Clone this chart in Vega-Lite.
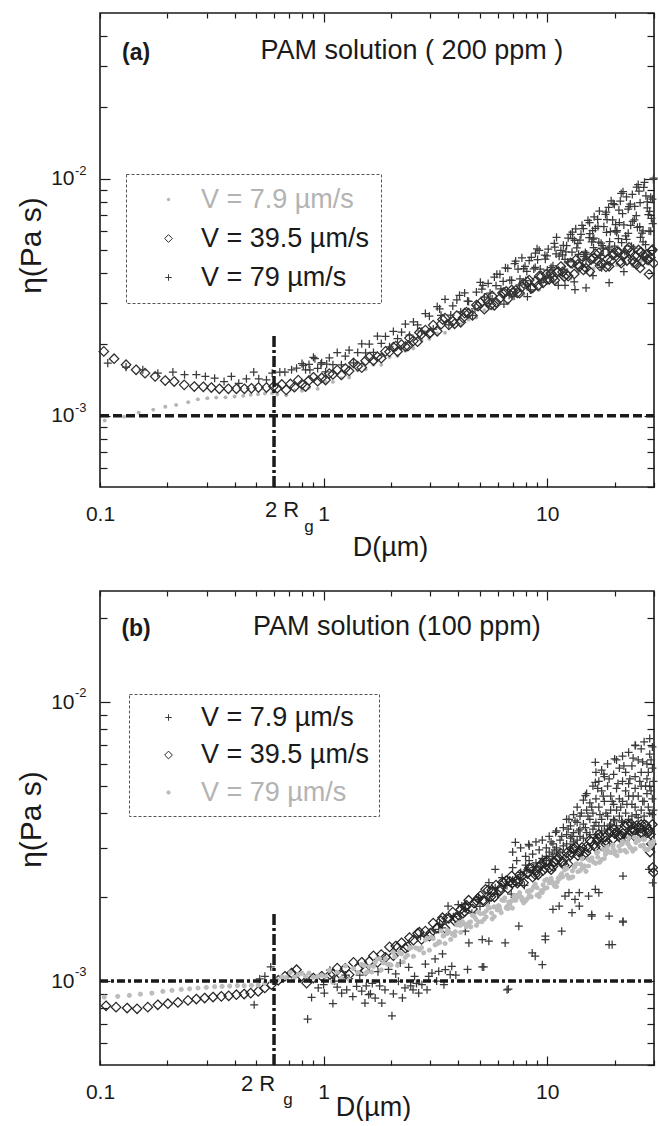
{
"$schema":"https://vega.github.io/schema/vega-lite/v6.json",
"padding":{"left":15,"top":11,"right":5,"bottom":0},
"background":"white",
"bounds":"flush",
"spacing":104,
"config":{
 "font":"Liberation Sans",
 "view":{"stroke":"#1a1a1a","strokeWidth":1.6},
 "axis":{"labelFont":"Liberation Sans","titleFont":"Liberation Sans","labelColor":"#1a1a1a","titleColor":"#1a1a1a","tickColor":"#1a1a1a","tickWidth":1.2,"domain":false,"grid":false,"labelFlush":false,"labelOverlap":false,"labelBound":false,"labelFontSize":21,"titleFontSize":27,"titleFontWeight":"normal"},
 "legend":{"strokeDash":[3,2],"strokeWidth":1,"strokeColor":"#555555","labelFont":"Liberation Sans","labelFontSize":27,"symbolSize":60,"symbolStrokeWidth":1,"labelLimit":400}
},
"datasets":{
"pa":[
{"v":7.9,"d":0.105,"e":0.000953},{"v":7.9,"d":0.128,"e":0.00099},{"v":7.9,"d":0.149,"e":0.00103},{"v":7.9,"d":0.173,"e":0.00106},{"v":7.9,"d":0.196,"e":0.00109},{"v":7.9,"d":0.219,"e":0.00111},{"v":7.9,"d":0.248,"e":0.00114},{"v":7.9,"d":0.274,"e":0.001172},{"v":7.9,"d":0.302,"e":0.001184},{"v":7.9,"d":0.331,"e":0.001192},{"v":7.9,"d":0.364,"e":0.001195},{"v":7.9,"d":0.4,"e":0.001204},{"v":7.9,"d":0.437,"e":0.001212},{"v":7.9,"d":0.472,"e":0.001224},{"v":7.9,"d":0.509,"e":0.001231},{"v":7.9,"d":0.546,"e":0.001239},{"v":7.9,"d":0.589,"e":0.001243},
{"v":7.9,"d":0.62,"e":0.001228},{"v":7.9,"d":0.68,"e":0.001218},{"v":7.9,"d":0.74,"e":0.001279},{"v":7.9,"d":0.8,"e":0.001274},{"v":7.9,"d":0.86,"e":0.00131},{"v":7.9,"d":0.94,"e":0.001298},{"v":7.9,"d":1.02,"e":0.001385},{"v":7.9,"d":1.1,"e":0.001388},{"v":7.9,"d":1.2,"e":0.001439},{"v":7.9,"d":1.3,"e":0.001449},{"v":7.9,"d":1.42,"e":0.001552},{"v":7.9,"d":1.54,"e":0.00157},{"v":7.9,"d":1.67,"e":0.001638},{"v":7.9,"d":1.81,"e":0.001639},{"v":7.9,"d":1.97,"e":0.001766},{"v":7.9,"d":2.14,"e":0.001787},{"v":7.9,"d":2.32,"e":0.001877},{"v":7.9,"d":2.52,"e":0.001922},{"v":7.9,"d":2.74,"e":0.002075},{"v":7.9,"d":2.97,"e":0.002107},{"v":7.9,"d":3.22,"e":0.002222},{"v":7.9,"d":3.49,"e":0.002236},{"v":7.9,"d":3.78,"e":0.002401},{"v":7.9,"d":4.1,"e":0.002425},{"v":7.9,"d":4.45,"e":0.002545},{"v":7.9,"d":4.82,"e":0.002592},{"v":7.9,"d":5.23,"e":0.002784},{"v":7.9,"d":5.67,"e":0.002833},{"v":7.9,"d":6.14,"e":0.002968},{"v":7.9,"d":6.66,"e":0.002975},{"v":7.9,"d":7.22,"e":0.003208},{"v":7.9,"d":7.83,"e":0.003235},{"v":7.9,"d":8.48,"e":0.003368},{"v":7.9,"d":9.2,"e":0.003398},{"v":7.9,"d":9.97,"e":0.003616},{"v":7.9,"d":10.8,"e":0.003648},{"v":7.9,"d":11.7,"e":0.003799},{"v":7.9,"d":12.7,"e":0.003787},{"v":7.9,"d":13.7,"e":0.004055},{"v":7.9,"d":14.9,"e":0.004059},{"v":7.9,"d":16.1,"e":0.004181},{"v":7.9,"d":17.5,"e":0.004168},{"v":7.9,"d":18.9,"e":0.004361},{"v":7.9,"d":20.5,"e":0.00432},{"v":7.9,"d":22.2,"e":0.004413},{"v":7.9,"d":24.1,"e":0.004289},{"v":7.9,"d":26.1,"e":0.004477},{"v":7.9,"d":28.3,"e":0.004368},
{"v":39.5,"d":0.104,"e":0.001867},{"v":39.5,"d":0.1156,"e":0.001739},{"v":39.5,"d":0.1308,"e":0.00164},{"v":39.5,"d":0.145,"e":0.001562},{"v":39.5,"d":0.159,"e":0.001511},{"v":39.5,"d":0.1765,"e":0.001463},{"v":39.5,"d":0.1957,"e":0.001407},{"v":39.5,"d":0.2147,"e":0.001393},{"v":39.5,"d":0.238,"e":0.001349},{"v":39.5,"d":0.264,"e":0.001327},{"v":39.5,"d":0.2897,"e":0.001324},{"v":39.5,"d":0.3147,"e":0.001314},{"v":39.5,"d":0.3418,"e":0.001298},{"v":39.5,"d":0.375,"e":0.001298},{"v":39.5,"d":0.4073,"e":0.001298},{"v":39.5,"d":0.4422,"e":0.001298},{"v":39.5,"d":0.4755,"e":0.001305},{"v":39.5,"d":0.511,"e":0.001314},{"v":39.5,"d":0.555,"e":0.001314},{"v":39.5,"d":0.597,"e":0.001327},
{"v":39.5,"d":0.62,"e":0.001306},{"v":39.5,"d":0.65,"e":0.001354},{"v":39.5,"d":0.68,"e":0.001284},{"v":39.5,"d":0.71,"e":0.001361},{"v":39.5,"d":0.74,"e":0.001319},{"v":39.5,"d":0.77,"e":0.001412},{"v":39.5,"d":0.8,"e":0.001356},{"v":39.5,"d":0.83,"e":0.001327},{"v":39.5,"d":0.86,"e":0.001408},{"v":39.5,"d":0.9,"e":0.001452},{"v":39.5,"d":0.94,"e":0.001397},{"v":39.5,"d":0.98,"e":0.001442},{"v":39.5,"d":1.02,"e":0.001414},{"v":39.5,"d":1.06,"e":0.001505},{"v":39.5,"d":1.1,"e":0.001492},{"v":39.5,"d":1.15,"e":0.001557},{"v":39.5,"d":1.2,"e":0.001485},{"v":39.5,"d":1.25,"e":0.001581},{"v":39.5,"d":1.3,"e":0.001544},{"v":39.5,"d":1.36,"e":0.001669},{"v":39.5,"d":1.42,"e":0.001618},{"v":39.5,"d":1.48,"e":0.001595},{"v":39.5,"d":1.54,"e":0.001705},{"v":39.5,"d":1.6,"e":0.001765},{"v":39.5,"d":1.67,"e":0.001708},{"v":39.5,"d":1.74,"e":0.001773},{"v":39.5,"d":1.81,"e":0.001747},{"v":39.5,"d":1.89,"e":0.001867},{"v":39.5,"d":1.97,"e":0.001859},{"v":39.5,"d":2.05,"e":0.001946},{"v":39.5,"d":2.14,"e":0.001864},{"v":39.5,"d":2.23,"e":0.001995},{"v":39.5,"d":2.32,"e":0.001957},{"v":39.5,"d":2.42,"e":0.002125},{"v":39.5,"d":2.52,"e":0.002068},{"v":39.5,"d":2.63,"e":0.002051},{"v":39.5,"d":2.74,"e":0.002206},{"v":39.5,"d":2.85,"e":0.002296},{"v":39.5,"d":2.97,"e":0.002221},{"v":39.5,"d":3.09,"e":0.002411},{"v":39.5,"d":3.22,"e":0.002269},{"v":39.5,"d":3.35,"e":0.002433},{"v":39.5,"d":3.49,"e":0.00258},{"v":39.5,"d":3.63,"e":0.002416},{"v":39.5,"d":3.78,"e":0.002502},{"v":39.5,"d":3.94,"e":0.002643},{"v":39.5,"d":4.1,"e":0.002478},{"v":39.5,"d":4.27,"e":0.002709},{"v":39.5,"d":4.45,"e":0.002707},{"v":39.5,"d":4.63,"e":0.002649},{"v":39.5,"d":4.82,"e":0.00293},{"v":39.5,"d":5.02,"e":0.00299},{"v":39.5,"d":5.23,"e":0.002814},{"v":39.5,"d":5.44,"e":0.003017},{"v":39.5,"d":5.67,"e":0.003198},{"v":39.5,"d":5.9,"e":0.003007},{"v":39.5,"d":6.14,"e":0.003125},{"v":39.5,"d":6.4,"e":0.003311},{"v":39.5,"d":6.66,"e":0.003106},{"v":39.5,"d":6.93,"e":0.003392},{"v":39.5,"d":7.22,"e":0.003377},{"v":39.5,"d":7.52,"e":0.00329},{"v":39.5,"d":7.83,"e":0.003617},{"v":39.5,"d":8.15,"e":0.003671},{"v":39.5,"d":8.48,"e":0.00344},{"v":39.5,"d":8.83,"e":0.003676},{"v":39.5,"d":9.2,"e":0.003879},{"v":39.5,"d":9.58,"e":0.003637},{"v":39.5,"d":9.97,"e":0.003768},{"v":39.5,"d":10.4,"e":0.003982},{"v":39.5,"d":10.8,"e":0.003727},{"v":39.5,"d":11.2,"e":0.00406},{"v":39.5,"d":11.7,"e":0.004042},{"v":39.5,"d":12.2,"e":0.003939},{"v":39.5,"d":12.7,"e":0.004411},{"v":39.5,"d":13.2,"e":0.003962},{"v":39.5,"d":13.7,"e":0.004353},{"v":39.5,"d":14.3,"e":0.004711},{"v":39.5,"d":14.9,"e":0.00419},{"v":39.5,"d":15.5,"e":0.004055},{"v":39.5,"d":16.1,"e":0.004626},{"v":39.5,"d":16.8,"e":0.00449},{"v":39.5,"d":17.5,"e":0.004394},{"v":39.5,"d":18.2,"e":0.004879},{"v":39.5,"d":18.9,"e":0.004269},{"v":39.5,"d":19.7,"e":0.004759},{"v":39.5,"d":20.5,"e":0.004924},{"v":39.5,"d":21.4,"e":0.004399},{"v":39.5,"d":22.2,"e":0.004789},{"v":39.5,"d":23.2,"e":0.00513},{"v":39.5,"d":24.1,"e":0.004524},{"v":39.5,"d":25.1,"e":0.004342},{"v":39.5,"d":26.1,"e":0.004902},{"v":39.5,"d":27.2,"e":0.004705},{"v":39.5,"d":28.3,"e":0.004556},{"v":39.5,"d":29.5,"e":0.005013},
{"v":39.5,"d":4.2,"e":0.002583},{"v":39.5,"d":4.9,"e":0.002897},{"v":39.5,"d":5.6,"e":0.002939},{"v":39.5,"d":6.3,"e":0.00329},{"v":39.5,"d":7,"e":0.003307},{"v":39.5,"d":7.7,"e":0.003492},{"v":39.5,"d":8.6,"e":0.003459},{"v":39.5,"d":9.4,"e":0.003875},{"v":39.5,"d":10.2,"e":0.003761},{"v":39.5,"d":11,"e":0.004031},{"v":39.5,"d":11.9,"e":0.003864},{"v":39.5,"d":12.9,"e":0.004392},{"v":39.5,"d":13.9,"e":0.004246},{"v":39.5,"d":15,"e":0.004416},{"v":39.5,"d":16.4,"e":0.004823},{"v":39.5,"d":17.2,"e":0.004287},{"v":39.5,"d":18.6,"e":0.004576},{"v":39.5,"d":19.3,"e":0.004513},{"v":39.5,"d":20.9,"e":0.004894},{"v":39.5,"d":21.8,"e":0.004734},{"v":39.5,"d":22.7,"e":0.004513},{"v":39.5,"d":23.7,"e":0.004897},{"v":39.5,"d":24.6,"e":0.004716},{"v":39.5,"d":25.6,"e":0.005},{"v":39.5,"d":26.6,"e":0.004474},{"v":39.5,"d":27.7,"e":0.004795},{"v":39.5,"d":28.9,"e":0.004643},{"v":39.5,"d":29.9,"e":0.004399},{"v":39.5,"d":28.5,"e":0.00395},{"v":39.5,"d":26,"e":0.0042},
{"v":39.5,"d":2.1,"e":0.001965},{"v":39.5,"d":2.38,"e":0.001964},{"v":39.5,"d":2.68,"e":0.002244},{"v":39.5,"d":3,"e":0.002238},{"v":39.5,"d":3.4,"e":0.002547},{"v":39.5,"d":3.85,"e":0.002442},{"v":39.5,"d":4.35,"e":0.002733},{"v":39.5,"d":5.3,"e":0.003127},{"v":39.5,"d":5.8,"e":0.002923},{"v":39.5,"d":6.55,"e":0.003343},{"v":39.5,"d":7.35,"e":0.003296},{"v":39.5,"d":8.3,"e":0.003733},{"v":39.5,"d":9.1,"e":0.003532},{"v":39.5,"d":9.9,"e":0.003948},{"v":39.5,"d":10.6,"e":0.003817},{"v":39.5,"d":11.5,"e":0.004258},{"v":39.5,"d":12.4,"e":0.00388},{"v":39.5,"d":13.4,"e":0.004533},{"v":39.5,"d":14.5,"e":0.004119},{"v":39.5,"d":15.7,"e":0.004556},{"v":39.5,"d":17,"e":0.004861},{"v":39.5,"d":18.3,"e":0.004246},{"v":39.5,"d":19.8,"e":0.004853},{"v":39.5,"d":21.2,"e":0.004486},{"v":39.5,"d":22.9,"e":0.005032},{"v":39.5,"d":24.4,"e":0.004432},{"v":39.5,"d":26.3,"e":0.0049},{"v":39.5,"d":27.9,"e":0.00456},{"v":39.5,"d":29.3,"e":0.004968},
{"v":79,"d":0.1083,"e":0.001666},{"v":79,"d":0.1308,"e":0.001602},{"v":79,"d":0.1554,"e":0.001562},{"v":79,"d":0.1814,"e":0.001511},{"v":79,"d":0.2118,"e":0.001526},{"v":79,"d":0.2388,"e":0.001488},{"v":79,"d":0.2696,"e":0.001488},{"v":79,"d":0.2958,"e":0.001463},{"v":79,"d":0.3255,"e":0.001439},{"v":79,"d":0.3587,"e":0.001393},{"v":79,"d":0.3868,"e":0.001463},{"v":79,"d":0.4172,"e":0.00137},{"v":79,"d":0.4515,"e":0.001431},{"v":79,"d":0.4868,"e":0.001526},{"v":79,"d":0.5127,"e":0.001431},{"v":79,"d":0.555,"e":0.001417},{"v":79,"d":0.589,"e":0.001511},{"v":79,"d":0.6368,"e":0.001526},{"v":79,"d":0.671,"e":0.001526},{"v":79,"d":0.7188,"e":0.001562},{"v":79,"d":0.7567,"e":0.001586},{"v":79,"d":0.811,"e":0.001628},{"v":79,"d":0.868,"e":0.001562},{"v":79,"d":0.914,"e":0.001739},{"v":79,"d":0.972,"e":0.00165},{"v":79,"d":1.032,"e":0.00165},
{"v":79,"d":0.8,"e":0.001658},{"v":79,"d":0.83,"e":0.001562},{"v":79,"d":0.86,"e":0.001645},{"v":79,"d":0.9,"e":0.001763},{"v":79,"d":0.94,"e":0.001583},{"v":79,"d":0.98,"e":0.001673},{"v":79,"d":1.02,"e":0.001531},{"v":79,"d":1.06,"e":0.001755},{"v":79,"d":1.1,"e":0.001641},{"v":79,"d":1.15,"e":0.001845},{"v":79,"d":1.2,"e":0.001638},{"v":79,"d":1.25,"e":0.001783},{"v":79,"d":1.3,"e":0.00189},{"v":79,"d":1.36,"e":0.001669},{"v":79,"d":1.42,"e":0.001846},{"v":79,"d":1.48,"e":0.00201},{"v":79,"d":1.54,"e":0.00184},{"v":79,"d":1.6,"e":0.002005},{"v":79,"d":1.67,"e":0.001848},{"v":79,"d":1.74,"e":0.002163},{"v":79,"d":1.81,"e":0.002017},{"v":79,"d":1.89,"e":0.002159},{"v":79,"d":1.97,"e":0.001952},{"v":79,"d":2.05,"e":0.002267},{"v":79,"d":2.14,"e":0.002114},{"v":79,"d":2.23,"e":0.002249},{"v":79,"d":2.32,"e":0.002436},{"v":79,"d":2.42,"e":0.002186},{"v":79,"d":2.52,"e":0.002486},{"v":79,"d":2.63,"e":0.002414},{"v":79,"d":2.74,"e":0.002271},{"v":79,"d":2.85,"e":0.002697},{"v":79,"d":2.97,"e":0.002629},{"v":79,"d":3.09,"e":0.002318},{"v":79,"d":3.22,"e":0.002884},{"v":79,"d":3.35,"e":0.00265},{"v":79,"d":3.49,"e":0.003096},{"v":79,"d":3.63,"e":0.002416},{"v":79,"d":3.78,"e":0.002906},{"v":79,"d":3.94,"e":0.003079},{"v":79,"d":4.1,"e":0.002738},{"v":79,"d":4.27,"e":0.003293},{"v":79,"d":4.45,"e":0.003032},{"v":79,"d":4.63,"e":0.002649},{"v":79,"d":4.82,"e":0.003324},{"v":79,"d":5.02,"e":0.003651},{"v":79,"d":5.23,"e":0.003165},{"v":79,"d":5.44,"e":0.003614},{"v":79,"d":5.67,"e":0.003107},{"v":79,"d":5.9,"e":0.003534},{"v":79,"d":6.14,"e":0.003946},{"v":79,"d":6.4,"e":0.002958},{"v":79,"d":6.66,"e":0.004184},{"v":79,"d":6.93,"e":0.003724},{"v":79,"d":7.22,"e":0.004491},{"v":79,"d":7.52,"e":0.003564},{"v":79,"d":7.83,"e":0.004174},{"v":79,"d":8.15,"e":0.003177},{"v":79,"d":8.48,"e":0.004658},{"v":79,"d":8.83,"e":0.004222},{"v":79,"d":9.2,"e":0.004987},{"v":79,"d":9.58,"e":0.003749},{"v":79,"d":9.97,"e":0.004719},{"v":79,"d":10.4,"e":0.004214},{"v":79,"d":10.8,"e":0.005139},{"v":79,"d":11.2,"e":0.003542},{"v":79,"d":11.7,"e":0.00477},{"v":79,"d":12.2,"e":0.005211},{"v":79,"d":12.7,"e":0.005825},{"v":79,"d":13.2,"e":0.003667},{"v":79,"d":13.7,"e":0.005335},{"v":79,"d":14.3,"e":0.006353},{"v":79,"d":14.9,"e":0.004583},{"v":79,"d":15.5,"e":0.005863},{"v":79,"d":16.1,"e":0.005115},{"v":79,"d":16.8,"e":0.006735},{"v":79,"d":17.5,"e":0.004213},{"v":79,"d":18.2,"e":0.007068},{"v":79,"d":18.9,"e":0.005141},{"v":79,"d":19.7,"e":0.007854},{"v":79,"d":20.5,"e":0.006039},{"v":79,"d":21.4,"e":0.008658},{"v":79,"d":22.2,"e":0.00493},{"v":79,"d":23.2,"e":0.007624},{"v":79,"d":24.1,"e":0.006598},{"v":79,"d":25.1,"e":0.009204},{"v":79,"d":26.1,"e":0.005656},{"v":79,"d":27.2,"e":0.009645},{"v":79,"d":28.3,"e":0.007046},{"v":79,"d":29.5,"e":0.008199},
{"v":79,"d":5.1,"e":0.003418},{"v":79,"d":5.5,"e":0.002973},{"v":79,"d":5.8,"e":0.003846},{"v":79,"d":6.2,"e":0.003425},{"v":79,"d":6.5,"e":0.004203},{"v":79,"d":6.8,"e":0.003727},{"v":79,"d":7.1,"e":0.003189},{"v":79,"d":7.4,"e":0.004157},{"v":79,"d":7.7,"e":0.004632},{"v":79,"d":8,"e":0.003716},{"v":79,"d":8.3,"e":0.004515},{"v":79,"d":8.7,"e":0.004162},{"v":79,"d":9,"e":0.005058},{"v":79,"d":9.4,"e":0.003649},{"v":79,"d":9.8,"e":0.004575},{"v":79,"d":10.1,"e":0.005048},{"v":79,"d":10.6,"e":0.004285},{"v":79,"d":11,"e":0.005651},{"v":79,"d":11.5,"e":0.004981},{"v":79,"d":11.9,"e":0.004148},{"v":79,"d":12.4,"e":0.005614},{"v":79,"d":12.9,"e":0.004894},{"v":79,"d":13.4,"e":0.006142},{"v":79,"d":14,"e":0.005504},{"v":79,"d":14.6,"e":0.00469},{"v":79,"d":15.2,"e":0.006667},{"v":79,"d":15.8,"e":0.005405},{"v":79,"d":16.4,"e":0.006163},{"v":79,"d":17.1,"e":0.007301},{"v":79,"d":17.8,"e":0.005087},{"v":79,"d":18.5,"e":0.006724},{"v":79,"d":19.3,"e":0.008059},{"v":79,"d":20.1,"e":0.006023},{"v":79,"d":20.9,"e":0.007364},{"v":79,"d":21.8,"e":0.008812},{"v":79,"d":22.6,"e":0.00555},{"v":79,"d":23.5,"e":0.007815},{"v":79,"d":24.5,"e":0.006695},{"v":79,"d":25.5,"e":0.009438},{"v":79,"d":26.5,"e":0.005886},{"v":79,"d":27.6,"e":0.008465},{"v":79,"d":28.7,"e":0.007274},{"v":79,"d":29.8,"e":0.009926},
{"v":79,"d":12.1,"e":0.004909},{"v":79,"d":13,"e":0.005578},{"v":79,"d":13.8,"e":0.004791},{"v":79,"d":14.5,"e":0.006157},{"v":79,"d":15.4,"e":0.005633},{"v":79,"d":16.2,"e":0.006904},{"v":79,"d":17,"e":0.005401},{"v":79,"d":17.9,"e":0.006273},{"v":79,"d":18.8,"e":0.007567},{"v":79,"d":19.6,"e":0.006693},{"v":79,"d":20.4,"e":0.005942},{"v":79,"d":21.2,"e":0.008038},{"v":79,"d":22,"e":0.00638},{"v":79,"d":23,"e":0.007432},{"v":79,"d":24,"e":0.008576},{"v":79,"d":25,"e":0.006986},{"v":79,"d":26,"e":0.00792},{"v":79,"d":27,"e":0.009179},{"v":79,"d":28,"e":0.00752},{"v":79,"d":29,"e":0.008348},{"v":79,"d":29.9,"e":0.01006},
{"v":79,"d":15,"e":0.004809},{"v":79,"d":16,"e":0.005553},{"v":79,"d":17.3,"e":0.004744},{"v":79,"d":18.4,"e":0.005941},{"v":79,"d":19,"e":0.005421},{"v":79,"d":20,"e":0.005186},{"v":79,"d":21,"e":0.006531},{"v":79,"d":22.4,"e":0.005733},{"v":79,"d":23.8,"e":0.005182},{"v":79,"d":25.3,"e":0.006229},{"v":79,"d":26.8,"e":0.005413},{"v":79,"d":28.5,"e":0.00601},{"v":79,"d":29.6,"e":0.006464},
{"v":79,"d":12,"e":0.00355},{"v":79,"d":13.3,"e":0.0034},{"v":79,"d":14.9,"e":0.00346},{"v":79,"d":18.9,"e":0.00364},{"v":79,"d":16,"e":0.0039},{"v":79,"d":22,"e":0.00405},
{"v":79,"d":3.3,"e":0.002822},{"v":79,"d":3.7,"e":0.002658},{"v":79,"d":4.05,"e":0.003217},{"v":79,"d":4.4,"e":0.003043},{"v":79,"d":4.75,"e":0.002824},{"v":79,"d":5.15,"e":0.00355},{"v":79,"d":5.55,"e":0.003289},{"v":79,"d":5.95,"e":0.003954},{"v":79,"d":6.35,"e":0.003686},{"v":79,"d":6.75,"e":0.003222},{"v":79,"d":7.15,"e":0.004375},{"v":79,"d":7.55,"e":0.003775},{"v":79,"d":7.95,"e":0.004268},{"v":79,"d":8.4,"e":0.003392},{"v":79,"d":8.85,"e":0.004845},{"v":79,"d":9.3,"e":0.004153},{"v":79,"d":9.75,"e":0.004755},{"v":79,"d":10.25,"e":0.003999},{"v":79,"d":10.75,"e":0.005326},{"v":79,"d":11.3,"e":0.004711},{"v":79,"d":11.8,"e":0.00523},{"v":79,"d":12.35,"e":0.004452},{"v":79,"d":12.95,"e":0.005947},{"v":79,"d":13.55,"e":0.005102},{"v":79,"d":14.15,"e":0.00582},{"v":79,"d":14.8,"e":0.004881},{"v":79,"d":15.45,"e":0.006519},{"v":79,"d":16.15,"e":0.005608},{"v":79,"d":16.85,"e":0.00629},{"v":79,"d":17.6,"e":0.005218},{"v":79,"d":18.35,"e":0.007216},{"v":79,"d":19.15,"e":0.005976},{"v":79,"d":19.95,"e":0.007775},{"v":79,"d":20.8,"e":0.005584},{"v":79,"d":21.7,"e":0.007114},{"v":79,"d":22.6,"e":0.00837},{"v":79,"d":23.6,"e":0.006359},{"v":79,"d":24.6,"e":0.007642},{"v":79,"d":25.7,"e":0.008866},{"v":79,"d":26.8,"e":0.006026},{"v":79,"d":28,"e":0.00799},{"v":79,"d":29.2,"e":0.006798},
{"v":79,"d":8.1,"e":0.00406},{"v":79,"d":9.05,"e":0.004553},{"v":79,"d":10,"e":0.004115},{"v":79,"d":10.95,"e":0.004812},{"v":79,"d":12,"e":0.00457},{"v":79,"d":13.25,"e":0.005486},{"v":79,"d":14.6,"e":0.00478},{"v":79,"d":15.95,"e":0.006036},{"v":79,"d":17.4,"e":0.005341},{"v":79,"d":18.7,"e":0.005039},{"v":79,"d":20.2,"e":0.006398},{"v":79,"d":21.5,"e":0.005375},{"v":79,"d":23,"e":0.00588},{"v":79,"d":24.3,"e":0.005091},{"v":79,"d":25.9,"e":0.006271},{"v":79,"d":27.5,"e":0.005267},{"v":79,"d":29,"e":0.006003}
],
"pb":[
{"v":7.9,"d":0.489,"e":0.000822},{"v":7.9,"d":0.518,"e":0.001017},{"v":7.9,"d":0.546,"e":0.00104},{"v":7.9,"d":0.58,"e":0.001123},{"v":7.9,"d":0.848,"e":0.00073},{"v":7.9,"d":0.883,"e":0.000873},{"v":7.9,"d":0.946,"e":0.000944},{"v":7.9,"d":1.007,"e":0.000905},{"v":7.9,"d":1.067,"e":0.001093},
{"v":7.9,"d":1.204,"e":0.000905},{"v":7.9,"d":1.268,"e":0.00093},{"v":7.9,"d":1.404,"e":0.000957},{"v":7.9,"d":1.53,"e":0.000834},{"v":7.9,"d":1.59,"e":0.000893},{"v":7.9,"d":1.7,"e":0.000869},{"v":7.9,"d":1.82,"e":0.000834},{"v":7.9,"d":1.88,"e":0.00093},{"v":7.9,"d":2.02,"e":0.00075},{"v":7.9,"d":2.16,"e":0.000998},{"v":7.9,"d":2.31,"e":0.000944},{"v":7.9,"d":2.51,"e":0.00093},{"v":7.9,"d":2.66,"e":0.000905},{"v":7.9,"d":2.75,"e":0.00097},{"v":7.9,"d":2.95,"e":0.00104},{"v":7.9,"d":3.05,"e":0.001068},{"v":7.9,"d":3.27,"e":0.001083},{"v":7.9,"d":3.5,"e":0.001098},{"v":7.9,"d":3.68,"e":0.001054},{"v":7.9,"d":3.74,"e":0.001129},{"v":7.9,"d":5.12,"e":0.001123},{"v":7.9,"d":6.7,"e":0.000936},{"v":7.9,"d":3.6,"e":0.001857},{"v":7.9,"d":4,"e":0.00188},{"v":7.9,"d":4.3,"e":0.00188},{"v":7.9,"d":4.93,"e":0.00199},{"v":7.9,"d":5.85,"e":0.00216},{"v":7.9,"d":2.71,"e":0.001448},{"v":7.9,"d":3.27,"e":0.00153},{"v":7.9,"d":4.3,"e":0.001509},{"v":7.9,"d":5.12,"e":0.001408},{"v":7.9,"d":5.48,"e":0.001389},{"v":7.9,"d":6.48,"e":0.00137},{"v":7.9,"d":7.46,"e":0.001573},{"v":7.9,"d":8.56,"e":0.001261},{"v":7.9,"d":9.5,"e":0.001144},{"v":7.9,"d":9.8,"e":0.001448},{"v":7.9,"d":11.3,"e":0.001857},{"v":7.9,"d":12,"e":0.002016},{"v":7.9,"d":12.9,"e":0.001757},{"v":7.9,"d":13.9,"e":0.002073},{"v":7.9,"d":15.8,"e":0.001709},{"v":7.9,"d":17,"e":0.002073},{"v":7.9,"d":18.9,"e":0.00135},{"v":7.9,"d":21.8,"e":0.001638},{"v":7.9,"d":29.6,"e":0.00225},
{"v":7.9,"d":1.12,"e":0.001},{"v":7.9,"d":1.3,"e":0.00102},{"v":7.9,"d":1.45,"e":0.00105},{"v":7.9,"d":1.65,"e":0.00098},{"v":7.9,"d":1.75,"e":0.00108},{"v":7.9,"d":1.95,"e":0.0011},{"v":7.9,"d":2.1,"e":0.00106},{"v":7.9,"d":2.4,"e":0.00112},{"v":7.9,"d":2.55,"e":0.00104},{"v":7.9,"d":2.85,"e":0.00115},{"v":7.9,"d":3.15,"e":0.0012},{"v":7.9,"d":3.4,"e":0.00125},{"v":7.9,"d":2.2,"e":0.00116},{"v":7.9,"d":1.55,"e":0.00096},
{"v":7.9,"d":1.15,"e":0.00095},{"v":7.9,"d":1.35,"e":0.00088},{"v":7.9,"d":1.48,"e":0.00092},{"v":7.9,"d":1.62,"e":0.0009},{"v":7.9,"d":1.78,"e":0.00096},{"v":7.9,"d":2.05,"e":0.0009},{"v":7.9,"d":2.25,"e":0.00087},{"v":7.9,"d":2.45,"e":0.00096},{"v":7.9,"d":2.6,"e":0.00098},{"v":7.9,"d":2.9,"e":0.00093},{"v":7.9,"d":3.2,"e":0.001},{"v":7.9,"d":3.45,"e":0.00097},{"v":7.9,"d":3.9,"e":0.00105},{"v":7.9,"d":4.4,"e":0.0011},{"v":7.9,"d":1.1,"e":0.00083},{"v":7.9,"d":1.0,"e":0.00097},{"v":7.9,"d":1.25,"e":0.00105},
{"v":7.9,"d":7.2,"e":0.00314},{"v":7.9,"d":8.26,"e":0.00309},{"v":7.9,"d":10.9,"e":0.00341},{"v":7.9,"d":12.5,"e":0.0038},{"v":7.9,"d":14.8,"e":0.00462},{"v":7.9,"d":16.4,"e":0.00515},{"v":7.9,"d":17.9,"e":0.00552},{"v":7.9,"d":16.4,"e":0.00608},{"v":7.9,"d":20,"e":0.00625},{"v":7.9,"d":24.8,"e":0.00698},{"v":7.9,"d":5.85,"e":0.002514},{"v":7.9,"d":6.28,"e":0.002347},{"v":7.9,"d":5.48,"e":0.002253},{"v":7.9,"d":4.93,"e":0.001961},{"v":7.9,"d":4.15,"e":0.001857},{"v":7.9,"d":3.39,"e":0.00155},{"v":7.9,"d":19.5,"e":0.00135},{"v":7.9,"d":21.8,"e":0.001626},{"v":7.9,"d":18.9,"e":0.001709},{"v":7.9,"d":15.8,"e":0.00173},{"v":7.9,"d":13.9,"e":0.001857},{"v":7.9,"d":11.6,"e":0.001509},{"v":7.9,"d":9.8,"e":0.001408},{"v":7.9,"d":8.83,"e":0.001227},{"v":7.9,"d":6.61,"e":0.00093},{"v":7.9,"d":5.2,"e":0.001123},{"v":7.9,"d":4.46,"e":0.00137},{"v":7.9,"d":15.3,"e":0.002016},{"v":7.9,"d":12.5,"e":0.002073},{"v":7.9,"d":10.6,"e":0.001806},{"v":7.9,"d":13.3,"e":0.001961},{"v":7.9,"d":16.4,"e":0.002132},{"v":7.9,"d":21.8,"e":0.002378},{"v":7.9,"d":28.5,"e":0.002514},
{"v":7.9,"d":4.6,"e":0.00175},{"v":7.9,"d":5,"e":0.00185},{"v":7.9,"d":5.5,"e":0.00195},{"v":7.9,"d":6,"e":0.00205},{"v":7.9,"d":6.6,"e":0.0022},{"v":7.9,"d":7,"e":0.0023},{"v":7.9,"d":7.6,"e":0.0024},{"v":7.9,"d":8.1,"e":0.0025},{"v":7.9,"d":8.7,"e":0.00255},{"v":7.9,"d":9.3,"e":0.00265},{"v":7.9,"d":9.9,"e":0.0027},{"v":7.9,"d":10.5,"e":0.0028},{"v":7.9,"d":4,"e":0.00162},{"v":7.9,"d":3.8,"e":0.0017},{"v":7.9,"d":3.3,"e":0.0016},{"v":7.9,"d":6.9,"e":0.00205},{"v":7.9,"d":7.9,"e":0.0022},
{"v":7.9,"d":7,"e":0.00255},{"v":7.9,"d":7,"e":0.0029},{"v":7.9,"d":7.3,"e":0.0027},{"v":7.9,"d":7.6,"e":0.00245},{"v":7.9,"d":7.6,"e":0.003},{"v":7.9,"d":8,"e":0.0028},{"v":7.9,"d":8,"e":0.0026},{"v":7.9,"d":8.3,"e":0.00305},{"v":7.9,"d":8.3,"e":0.0027},{"v":7.9,"d":8.6,"e":0.00285},{"v":7.9,"d":8.9,"e":0.00265},{"v":7.9,"d":8.9,"e":0.00315},{"v":7.9,"d":9.2,"e":0.00295},{"v":7.9,"d":9.5,"e":0.00275},{"v":7.9,"d":9.5,"e":0.0032},{"v":7.9,"d":9.9,"e":0.003},{"v":7.9,"d":9.9,"e":0.0028},{"v":7.9,"d":10.2,"e":0.0033},{"v":7.9,"d":10.2,"e":0.0029},{"v":7.9,"d":10.6,"e":0.0031},{"v":7.9,"d":10.6,"e":0.00285},{"v":7.9,"d":11,"e":0.00345},{"v":7.9,"d":11,"e":0.003},{"v":7.9,"d":11.4,"e":0.0032},{"v":7.9,"d":11.4,"e":0.0029},{"v":7.9,"d":11.8,"e":0.00355},{"v":7.9,"d":11.8,"e":0.00305},{"v":7.9,"d":12.2,"e":0.00335},{"v":7.9,"d":12.2,"e":0.0031},{"v":7.9,"d":12.2,"e":0.0038},{"v":7.9,"d":12.7,"e":0.0036},{"v":7.9,"d":12.7,"e":0.003},{"v":7.9,"d":12.7,"e":0.00325},{"v":7.9,"d":13.1,"e":0.00395},{"v":7.9,"d":13.1,"e":0.0034},{"v":7.9,"d":13.1,"e":0.00315},{"v":7.9,"d":13.6,"e":0.0037},{"v":7.9,"d":13.6,"e":0.0042},{"v":7.9,"d":13.6,"e":0.0032},{"v":7.9,"d":14,"e":0.0035},{"v":7.9,"d":14,"e":0.0039},{"v":7.9,"d":14,"e":0.0033},{"v":7.9,"d":14.5,"e":0.00445},{"v":7.9,"d":14.5,"e":0.00365},{"v":7.9,"d":14.5,"e":0.00325},{"v":7.9,"d":15,"e":0.0041},{"v":7.9,"d":15,"e":0.0034},{"v":7.9,"d":15,"e":0.0047},{"v":7.9,"d":15.5,"e":0.0038},{"v":7.9,"d":15.5,"e":0.00335},{"v":7.9,"d":15.5,"e":0.00435},{"v":7.9,"d":16,"e":0.005},{"v":7.9,"d":16,"e":0.004},{"v":7.9,"d":16,"e":0.0035},{"v":7.9,"d":16.5,"e":0.0056},{"v":7.9,"d":16.5,"e":0.0037},{"v":7.9,"d":16.5,"e":0.0045},{"v":7.9,"d":16.5,"e":0.00335},{"v":7.9,"d":17,"e":0.0042},{"v":7.9,"d":17,"e":0.0052},{"v":7.9,"d":17,"e":0.0036},{"v":7.9,"d":17.5,"e":0.0038},{"v":7.9,"d":17.5,"e":0.0048},{"v":7.9,"d":17.5,"e":0.00345},{"v":7.9,"d":17.5,"e":0.0057},{"v":7.9,"d":18,"e":0.0044},{"v":7.9,"d":18,"e":0.0036},{"v":7.9,"d":18,"e":0.0054},{"v":7.9,"d":18.6,"e":0.0039},{"v":7.9,"d":18.6,"e":0.005},{"v":7.9,"d":18.6,"e":0.0035},{"v":7.9,"d":18.6,"e":0.006},{"v":7.9,"d":19.2,"e":0.0046},{"v":7.9,"d":19.2,"e":0.0041},{"v":7.9,"d":19.2,"e":0.00365},{"v":7.9,"d":19.8,"e":0.0055},{"v":7.9,"d":19.8,"e":0.0038},{"v":7.9,"d":19.8,"e":0.0043},{"v":7.9,"d":20.4,"e":0.0062},{"v":7.9,"d":20.4,"e":0.0049},{"v":7.9,"d":20.4,"e":0.0036},{"v":7.9,"d":20.4,"e":0.0041},{"v":7.9,"d":21,"e":0.0045},{"v":7.9,"d":21,"e":0.0058},{"v":7.9,"d":21,"e":0.0039},{"v":7.9,"d":21.7,"e":0.0037},{"v":7.9,"d":21.7,"e":0.0052},{"v":7.9,"d":21.7,"e":0.0044},{"v":7.9,"d":21.7,"e":0.0064},{"v":7.9,"d":22.4,"e":0.0048},{"v":7.9,"d":22.4,"e":0.004},{"v":7.9,"d":22.4,"e":0.0056},{"v":7.9,"d":23.1,"e":0.0066},{"v":7.9,"d":23.1,"e":0.0038},{"v":7.9,"d":23.1,"e":0.0046},{"v":7.9,"d":23.1,"e":0.0051},{"v":7.9,"d":23.9,"e":0.0043},{"v":7.9,"d":23.9,"e":0.0059},{"v":7.9,"d":23.9,"e":0.0039},{"v":7.9,"d":24.7,"e":0.007},{"v":7.9,"d":24.7,"e":0.0049},{"v":7.9,"d":24.7,"e":0.0042},{"v":7.9,"d":24.7,"e":0.0054},{"v":7.9,"d":25.5,"e":0.00385},{"v":7.9,"d":25.5,"e":0.0062},{"v":7.9,"d":25.5,"e":0.0046},{"v":7.9,"d":26.3,"e":0.005},{"v":7.9,"d":26.3,"e":0.0041},{"v":7.9,"d":26.3,"e":0.0068},{"v":7.9,"d":26.3,"e":0.0056},{"v":7.9,"d":27.1,"e":0.0044},{"v":7.9,"d":27.1,"e":0.0072},{"v":7.9,"d":27.1,"e":0.0039},{"v":7.9,"d":27.9,"e":0.0053},{"v":7.9,"d":27.9,"e":0.0047},{"v":7.9,"d":27.9,"e":0.006},{"v":7.9,"d":28.7,"e":0.004},{"v":7.9,"d":28.7,"e":0.0065},{"v":7.9,"d":28.7,"e":0.005},{"v":7.9,"d":28.7,"e":0.0074},{"v":7.9,"d":29.5,"e":0.0045},{"v":7.9,"d":29.5,"e":0.0058},{"v":7.9,"d":29.5,"e":0.00395},{"v":7.9,"d":29.5,"e":0.0069},
{"v":7.9,"d":10.4,"e":0.00315},{"v":7.9,"d":10.8,"e":0.00295},{"v":7.9,"d":11.6,"e":0.0033},{"v":7.9,"d":12.4,"e":0.0035},{"v":7.9,"d":12.9,"e":0.0033},{"v":7.9,"d":13.3,"e":0.00375},{"v":7.9,"d":13.8,"e":0.00345},{"v":7.9,"d":14.2,"e":0.004},{"v":7.9,"d":14.8,"e":0.00355},{"v":7.9,"d":15.2,"e":0.0039},{"v":7.9,"d":15.8,"e":0.0042},{"v":7.9,"d":16.2,"e":0.0036},{"v":7.9,"d":16.8,"e":0.0049},{"v":7.9,"d":17.2,"e":0.00395},{"v":7.9,"d":17.8,"e":0.0046},{"v":7.9,"d":18.3,"e":0.004},{"v":7.9,"d":18.9,"e":0.0053},{"v":7.9,"d":19.5,"e":0.0044},{"v":7.9,"d":20,"e":0.00375},{"v":7.9,"d":20.7,"e":0.0051},{"v":7.9,"d":21.3,"e":0.0042},{"v":7.9,"d":22,"e":0.0059},{"v":7.9,"d":22.7,"e":0.0043},{"v":7.9,"d":23.4,"e":0.0053},{"v":7.9,"d":24.2,"e":0.0046},{"v":7.9,"d":24.2,"e":0.0063},{"v":7.9,"d":25,"e":0.00395},{"v":7.9,"d":25.9,"e":0.0052},{"v":7.9,"d":26.7,"e":0.0044},{"v":7.9,"d":26.7,"e":0.0061},{"v":7.9,"d":27.5,"e":0.005},{"v":7.9,"d":28.3,"e":0.0042},{"v":7.9,"d":28.3,"e":0.0056},{"v":7.9,"d":29.1,"e":0.0048},{"v":7.9,"d":29.1,"e":0.0062},{"v":7.9,"d":29.8,"e":0.0052},{"v":7.9,"d":29.8,"e":0.0041},{"v":7.9,"d":19,"e":0.0036},{"v":7.9,"d":21.5,"e":0.00375},{"v":7.9,"d":23.7,"e":0.0037},
{"v":39.5,"d":0.1064,"e":0.000815},{"v":39.5,"d":0.118,"e":0.000806},{"v":39.5,"d":0.1322,"e":0.0008},{"v":39.5,"d":0.1465,"e":0.000795},{"v":39.5,"d":0.1636,"e":0.000806},{"v":39.5,"d":0.1814,"e":0.000822},{"v":39.5,"d":0.2012,"e":0.000829},{"v":39.5,"d":0.2231,"e":0.000838},{"v":39.5,"d":0.2474,"e":0.000852},{"v":39.5,"d":0.2696,"e":0.000862},{"v":39.5,"d":0.2937,"e":0.000869},{"v":39.5,"d":0.3202,"e":0.000876},{"v":39.5,"d":0.3488,"e":0.000881},{"v":39.5,"d":0.3762,"e":0.000885},{"v":39.5,"d":0.4073,"e":0.000893},{"v":39.5,"d":0.4411,"e":0.000898},{"v":39.5,"d":0.472,"e":0.000905},{"v":39.5,"d":0.5095,"e":0.000918},{"v":39.5,"d":0.5456,"e":0.000944},{"v":39.5,"d":0.5845,"e":0.00097},{"v":39.5,"d":0.6264,"e":0.001006},{"v":39.5,"d":0.671,"e":0.00104},{"v":39.5,"d":0.7188,"e":0.001068},{"v":39.5,"d":0.7567,"e":0.001098},{"v":39.5,"d":0.797,"e":0.00104},{"v":39.5,"d":0.8391,"e":0.000983},{"v":39.5,"d":0.8991,"e":0.001025},{"v":39.5,"d":0.9795,"e":0.00104},{"v":39.5,"d":1.067,"e":0.001054},
{"v":39.5,"d":1.1,"e":0.00106},{"v":39.5,"d":1.15,"e":0.001112},{"v":39.5,"d":1.2,"e":0.001047},{"v":39.5,"d":1.25,"e":0.00111},{"v":39.5,"d":1.3,"e":0.001054},{"v":39.5,"d":1.36,"e":0.001166},{"v":39.5,"d":1.42,"e":0.00111},{"v":39.5,"d":1.48,"e":0.001167},{"v":39.5,"d":1.54,"e":0.001087},{"v":39.5,"d":1.6,"e":0.001175},{"v":39.5,"d":1.67,"e":0.001231},{"v":39.5,"d":1.74,"e":0.001166},{"v":39.5,"d":1.81,"e":0.001244},{"v":39.5,"d":1.89,"e":0.001216},{"v":39.5,"d":1.97,"e":0.001325},{"v":39.5,"d":2.05,"e":0.001232},{"v":39.5,"d":2.14,"e":0.00132},{"v":39.5,"d":2.23,"e":0.001371},{"v":39.5,"d":2.32,"e":0.001311},{"v":39.5,"d":2.42,"e":0.001431},{"v":39.5,"d":2.52,"e":0.0014},{"v":39.5,"d":2.63,"e":0.001483},{"v":39.5,"d":2.74,"e":0.001409},{"v":39.5,"d":2.85,"e":0.001509},{"v":39.5,"d":2.97,"e":0.001447},{"v":39.5,"d":3.09,"e":0.001613},{"v":39.5,"d":3.22,"e":0.00155},{"v":39.5,"d":3.35,"e":0.001643},{"v":39.5,"d":3.49,"e":0.001546},{"v":39.5,"d":3.63,"e":0.001677},{"v":39.5,"d":3.78,"e":0.001765},{"v":39.5,"d":3.94,"e":0.001678},{"v":39.5,"d":4.1,"e":0.001805},{"v":39.5,"d":4.27,"e":0.001774},{"v":39.5,"d":4.45,"e":0.001948},{"v":39.5,"d":4.63,"e":0.001812},{"v":39.5,"d":4.82,"e":0.001942},{"v":39.5,"d":5.02,"e":0.002019},{"v":39.5,"d":5.23,"e":0.001938},{"v":39.5,"d":5.44,"e":0.002118},{"v":39.5,"d":5.67,"e":0.00208},{"v":39.5,"d":5.9,"e":0.002207},{"v":39.5,"d":6.14,"e":0.002101},{"v":39.5,"d":6.4,"e":0.00225},{"v":39.5,"d":6.66,"e":0.002146},{"v":39.5,"d":6.93,"e":0.002378},{"v":39.5,"d":7.22,"e":0.002275},{"v":39.5,"d":7.52,"e":0.002402},{"v":39.5,"d":7.83,"e":0.002248},{"v":39.5,"d":8.15,"e":0.002426},{"v":39.5,"d":8.48,"e":0.002538},{"v":39.5,"d":8.83,"e":0.002405},{"v":39.5,"d":9.2,"e":0.00256},{"v":39.5,"d":9.58,"e":0.002491},{"v":39.5,"d":9.97,"e":0.002704},{"v":39.5,"d":10.4,"e":0.002507},{"v":39.5,"d":10.8,"e":0.002671},{"v":39.5,"d":11.2,"e":0.00276},{"v":39.5,"d":11.7,"e":0.00264},{"v":39.5,"d":12.2,"e":0.002876},{"v":39.5,"d":12.7,"e":0.002823},{"v":39.5,"d":13.2,"e":0.002978},{"v":39.5,"d":13.7,"e":0.002816},{"v":39.5,"d":14.3,"e":0.00301},{"v":39.5,"d":14.9,"e":0.002879},{"v":39.5,"d":15.5,"e":0.0032},{"v":39.5,"d":16.1,"e":0.003065},{"v":39.5,"d":16.8,"e":0.003247},{"v":39.5,"d":17.5,"e":0.003049},{"v":39.5,"d":18.2,"e":0.00328},{"v":39.5,"d":18.9,"e":0.003416},{"v":39.5,"d":19.7,"e":0.00323},{"v":39.5,"d":20.5,"e":0.003429},{"v":39.5,"d":21.4,"e":0.003332},{"v":39.5,"d":22.2,"e":0.003602},{"v":39.5,"d":23.2,"e":0.003326},{"v":39.5,"d":24.1,"e":0.003522},{"v":39.5,"d":25.1,"e":0.003605},{"v":39.5,"d":26.1,"e":0.003395},{"v":39.5,"d":27.2,"e":0.00364},{"v":39.5,"d":28.3,"e":0.0035},{"v":39.5,"d":29.5,"e":0.00364},
{"v":39.5,"d":4.2,"e":0.001751},{"v":39.5,"d":4.9,"e":0.001977},{"v":39.5,"d":5.6,"e":0.002005},{"v":39.5,"d":6.3,"e":0.002261},{"v":39.5,"d":7,"e":0.00225},{"v":39.5,"d":7.7,"e":0.002376},{"v":39.5,"d":8.6,"e":0.002355},{"v":39.5,"d":9.4,"e":0.002628},{"v":39.5,"d":10.2,"e":0.002542},{"v":39.5,"d":11,"e":0.002715},{"v":39.5,"d":11.9,"e":0.002602},{"v":39.5,"d":12.9,"e":0.002981},{"v":39.5,"d":13.9,"e":0.00289},{"v":39.5,"d":15,"e":0.003037},{"v":39.5,"d":16.4,"e":0.003026},{"v":39.5,"d":17.2,"e":0.003281},{"v":39.5,"d":18.6,"e":0.003137},{"v":39.5,"d":19.3,"e":0.003439},{"v":39.5,"d":20.9,"e":0.003311},{"v":39.5,"d":21.8,"e":0.003482},{"v":39.5,"d":22.7,"e":0.003276},{"v":39.5,"d":23.7,"e":0.003651},{"v":39.5,"d":24.6,"e":0.003458},{"v":39.5,"d":25.6,"e":0.003535},{"v":39.5,"d":26.6,"e":0.003395},{"v":39.5,"d":27.7,"e":0.003605},{"v":39.5,"d":28.9,"e":0.00336},{"v":39.5,"d":28.8,"e":0.0029},{"v":39.5,"d":29.6,"e":0.00255},{"v":39.5,"d":29.2,"e":0.0031},{"v":39.5,"d":29.9,"e":0.00245},
{"v":39.5,"d":2.1,"e":0.001335},{"v":39.5,"d":2.38,"e":0.001325},{"v":39.5,"d":2.68,"e":0.001496},{"v":39.5,"d":3,"e":0.001484},{"v":39.5,"d":3.4,"e":0.001686},{"v":39.5,"d":3.85,"e":0.001644},{"v":39.5,"d":4.35,"e":0.001868},{"v":39.5,"d":5.3,"e":0.002131},{"v":39.5,"d":5.8,"e":0.002},{"v":39.5,"d":6.55,"e":0.002289},{"v":39.5,"d":7.35,"e":0.002243},{"v":39.5,"d":8.3,"e":0.00254},{"v":39.5,"d":9.1,"e":0.002403},{"v":39.5,"d":9.9,"e":0.002672},{"v":39.5,"d":10.6,"e":0.002575},{"v":39.5,"d":11.5,"e":0.002868},{"v":39.5,"d":12.4,"e":0.002624},{"v":39.5,"d":13.4,"e":0.003023},{"v":39.5,"d":14.5,"e":0.002819},{"v":39.5,"d":15.7,"e":0.003156},{"v":39.5,"d":17,"e":0.003359},{"v":39.5,"d":18.3,"e":0.003091},{"v":39.5,"d":19.8,"e":0.003502},{"v":39.5,"d":21.2,"e":0.003256},{"v":39.5,"d":22.9,"e":0.003628},{"v":39.5,"d":24.4,"e":0.003317},{"v":39.5,"d":26.3,"e":0.00364},{"v":39.5,"d":27.9,"e":0.003395},
{"v":39.5,"d":3.2,"e":0.001546},{"v":39.5,"d":3.55,"e":0.001677},{"v":39.5,"d":3.9,"e":0.001691},{"v":39.5,"d":4.3,"e":0.001838},{"v":39.5,"d":4.7,"e":0.001901},{"v":39.5,"d":5.15,"e":0.001944},{"v":39.5,"d":5.65,"e":0.002118},{"v":39.5,"d":6.2,"e":0.002155},{"v":39.5,"d":6.8,"e":0.002274},{"v":39.5,"d":7.45,"e":0.002278},{"v":39.5,"d":8.2,"e":0.002456},{"v":39.5,"d":8.95,"e":0.00249},{"v":39.5,"d":9.8,"e":0.00254},{"v":39.5,"d":10.7,"e":0.002673},{"v":39.5,"d":11.7,"e":0.002681},{"v":39.5,"d":12.8,"e":0.002888},{"v":39.5,"d":14,"e":0.002928},{"v":39.5,"d":15.3,"e":0.003002},{"v":39.5,"d":16.7,"e":0.003176},{"v":39.5,"d":18.3,"e":0.003181},{"v":39.5,"d":20,"e":0.003378},{"v":39.5,"d":21.8,"e":0.003383},{"v":39.5,"d":23.9,"e":0.00343},{"v":39.5,"d":26.2,"e":0.003535},{"v":39.5,"d":28.6,"e":0.00343},
{"v":79,"d":0.1045,"e":0.000876},{"v":79,"d":0.12,"e":0.000881},{"v":79,"d":0.1353,"e":0.000888},{"v":79,"d":0.1516,"e":0.000898},{"v":79,"d":0.1706,"e":0.000905},{"v":79,"d":0.191,"e":0.000918},{"v":79,"d":0.2097,"e":0.000926},{"v":79,"d":0.2308,"e":0.000934},{"v":79,"d":0.2515,"e":0.000938},{"v":79,"d":0.2742,"e":0.000944},{"v":79,"d":0.2988,"e":0.000949},{"v":79,"d":0.3255,"e":0.000954},{"v":79,"d":0.3513,"e":0.000957},{"v":79,"d":0.38,"e":0.000959},{"v":79,"d":0.4115,"e":0.000962},{"v":79,"d":0.441,"e":0.000962},{"v":79,"d":0.4755,"e":0.000965},{"v":79,"d":0.5095,"e":0.000967},{"v":79,"d":0.5456,"e":0.000983},{"v":79,"d":0.5845,"e":0.000998},
{"v":79,"d":0.62,"e":0.00101},{"v":79,"d":0.65,"e":0.001035},{"v":79,"d":0.68,"e":0.00103},{"v":79,"d":0.71,"e":0.001071},{"v":79,"d":0.74,"e":0.001031},{"v":79,"d":0.77,"e":0.001054},{"v":79,"d":0.8,"e":0.001066},{"v":79,"d":0.83,"e":0.00104},{"v":79,"d":0.86,"e":0.001067},{"v":79,"d":0.9,"e":0.00103},{"v":79,"d":0.94,"e":0.001039},{"v":79,"d":0.98,"e":0.001048},{"v":79,"d":1.02,"e":0.001038},{"v":79,"d":1.06,"e":0.001091},{"v":79,"d":1.1,"e":0.000988},{"v":79,"d":1.15,"e":0.001076},{"v":79,"d":1.2,"e":0.001025},{"v":79,"d":1.25,"e":0.001132},{"v":79,"d":1.3,"e":0.001012},{"v":79,"d":1.36,"e":0.001108},{"v":79,"d":1.42,"e":0.001073},{"v":79,"d":1.48,"e":0.001148},{"v":79,"d":1.54,"e":0.001067},{"v":79,"d":1.6,"e":0.001126},{"v":79,"d":1.67,"e":0.001129},{"v":79,"d":1.74,"e":0.001199},{"v":79,"d":1.81,"e":0.001096},{"v":79,"d":1.89,"e":0.001203},{"v":79,"d":1.97,"e":0.001147},{"v":79,"d":2.05,"e":0.001267},{"v":79,"d":2.14,"e":0.001137},{"v":79,"d":2.23,"e":0.001251},{"v":79,"d":2.32,"e":0.001215},{"v":79,"d":2.42,"e":0.001309},{"v":79,"d":2.52,"e":0.001226},{"v":79,"d":2.63,"e":0.00131},{"v":79,"d":2.74,"e":0.001317},{"v":79,"d":2.85,"e":0.001403},{"v":79,"d":2.97,"e":0.00129},{"v":79,"d":3.09,"e":0.00142},{"v":79,"d":3.22,"e":0.00136},{"v":79,"d":3.35,"e":0.001512},{"v":79,"d":3.49,"e":0.001363},{"v":79,"d":3.63,"e":0.001503},{"v":79,"d":3.78,"e":0.00147},{"v":79,"d":3.94,"e":0.001589},{"v":79,"d":4.1,"e":0.001493},{"v":79,"d":4.27,"e":0.0016},{"v":79,"d":4.45,"e":0.001615},{"v":79,"d":4.63,"e":0.001722},{"v":79,"d":4.82,"e":0.001582},{"v":79,"d":5.02,"e":0.001742},{"v":79,"d":5.23,"e":0.001667},{"v":79,"d":5.44,"e":0.001852},{"v":79,"d":5.67,"e":0.00167},{"v":79,"d":5.9,"e":0.001843},{"v":79,"d":6.14,"e":0.001802},{"v":79,"d":6.4,"e":0.001944},{"v":79,"d":6.66,"e":0.001817},{"v":79,"d":6.93,"e":0.001937},{"v":79,"d":7.22,"e":0.001945},{"v":79,"d":7.52,"e":0.002073},{"v":79,"d":7.83,"e":0.001904},{"v":79,"d":8.15,"e":0.002095},{"v":79,"d":8.48,"e":0.002004},{"v":79,"d":8.83,"e":0.002227},{"v":79,"d":9.2,"e":0.002006},{"v":79,"d":9.58,"e":0.002211},{"v":79,"d":9.97,"e":0.002159},{"v":79,"d":10.4,"e":0.002332},{"v":79,"d":10.8,"e":0.002187},{"v":79,"d":11.2,"e":0.002337},{"v":79,"d":11.7,"e":0.002361},{"v":79,"d":12.2,"e":0.002527},{"v":79,"d":12.7,"e":0.002342},{"v":79,"d":13.2,"e":0.002577},{"v":79,"d":13.7,"e":0.002464},{"v":79,"d":14.3,"e":0.00274},{"v":79,"d":14.9,"e":0.002472},{"v":79,"d":15.5,"e":0.00273},{"v":79,"d":16.1,"e":0.002669},{"v":79,"d":16.8,"e":0.002889},{"v":79,"d":17.5,"e":0.002722},{"v":79,"d":18.2,"e":0.002898},{"v":79,"d":18.9,"e":0.002897},{"v":79,"d":19.7,"e":0.003077},{"v":79,"d":20.5,"e":0.002814},{"v":79,"d":21.4,"e":0.003087},{"v":79,"d":22.2,"e":0.002939},{"v":79,"d":23.2,"e":0.003257},{"v":79,"d":24.1,"e":0.002922},{"v":79,"d":25.1,"e":0.003194},{"v":79,"d":26.1,"e":0.003053},{"v":79,"d":27.2,"e":0.00322},{"v":79,"d":28.3,"e":0.002954},{"v":79,"d":29.5,"e":0.003088},
{"v":79,"d":1.57,"e":0.00108},{"v":79,"d":1.7,"e":0.001168},{"v":79,"d":1.85,"e":0.001161},{"v":79,"d":2,"e":0.00114},{"v":79,"d":2.18,"e":0.001266},{"v":79,"d":2.37,"e":0.001237},{"v":79,"d":2.58,"e":0.001314},{"v":79,"d":2.8,"e":0.001262},{"v":79,"d":3.03,"e":0.001436},{"v":79,"d":3.28,"e":0.001385},{"v":79,"d":3.56,"e":0.001477},{"v":79,"d":3.86,"e":0.001453},{"v":79,"d":4.18,"e":0.001632},{"v":79,"d":4.54,"e":0.001628},{"v":79,"d":4.92,"e":0.001628},{"v":79,"d":5.34,"e":0.001786},{"v":79,"d":5.79,"e":0.001702},{"v":79,"d":6.27,"e":0.001949},{"v":79,"d":6.8,"e":0.001887},{"v":79,"d":7.37,"e":0.001999},{"v":79,"d":7.99,"e":0.001938},{"v":79,"d":8.66,"e":0.002167},{"v":79,"d":9.39,"e":0.002108},{"v":79,"d":10.2,"e":0.002246},{"v":79,"d":11,"e":0.002181},{"v":79,"d":11.95,"e":0.002503},{"v":79,"d":12.95,"e":0.002483},{"v":79,"d":14,"e":0.002485},{"v":79,"d":15.2,"e":0.002733},{"v":79,"d":16.45,"e":0.002641},{"v":79,"d":17.8,"e":0.002965},{"v":79,"d":19.3,"e":0.002884},{"v":79,"d":20.9,"e":0.003038},{"v":79,"d":22.6,"e":0.002895},{"v":79,"d":24.5,"e":0.003273},{"v":79,"d":26.6,"e":0.003044},{"v":79,"d":28.8,"e":0.003129},
{"v":79,"d":6.05,"e":0.001864},{"v":79,"d":6.55,"e":0.001827},{"v":79,"d":7.1,"e":0.002011},{"v":79,"d":7.7,"e":0.001951},{"v":79,"d":8.3,"e":0.002109},{"v":79,"d":9,"e":0.002031},{"v":79,"d":9.75,"e":0.002292},{"v":79,"d":10.6,"e":0.002237},{"v":79,"d":11.45,"e":0.002385},{"v":79,"d":12.45,"e":0.002339},{"v":79,"d":13.45,"e":0.002622},{"v":79,"d":14.6,"e":0.002555},{"v":79,"d":15.8,"e":0.002727},{"v":79,"d":17.1,"e":0.002665},{"v":79,"d":18.5,"e":0.002967},{"v":79,"d":20.1,"e":0.002917},{"v":79,"d":21.8,"e":0.003165},{"v":79,"d":23.6,"e":0.002995},{"v":79,"d":25.6,"e":0.003186},{"v":79,"d":27.7,"e":0.002966},{"v":79,"d":29.9,"e":0.003174},
{"v":79,"d":1.52,"e":0.001136},{"v":79,"d":1.64,"e":0.001078},{"v":79,"d":1.78,"e":0.001203},{"v":79,"d":1.93,"e":0.00115},{"v":79,"d":2.08,"e":0.001223},{"v":79,"d":2.27,"e":0.00117},{"v":79,"d":2.46,"e":0.001317},{"v":79,"d":2.68,"e":0.001293},{"v":79,"d":2.9,"e":0.001426},{"v":79,"d":3.15,"e":0.001348},{"v":79,"d":3.42,"e":0.001451},{"v":79,"d":3.7,"e":0.001411},{"v":79,"d":4.02,"e":0.001618},{"v":79,"d":4.35,"e":0.001566},{"v":79,"d":4.72,"e":0.001701},{"v":79,"d":5.1,"e":0.001633},{"v":79,"d":5.52,"e":0.001827},{"v":79,"d":5.97,"e":0.001798},{"v":79,"d":6.45,"e":0.001985},{"v":79,"d":6.98,"e":0.001826},{"v":79,"d":7.55,"e":0.002017},{"v":79,"d":8.15,"e":0.001975},{"v":79,"d":8.8,"e":0.002203},{"v":79,"d":9.5,"e":0.002077},{"v":79,"d":10.3,"e":0.002303},{"v":79,"d":11.1,"e":0.002265},{"v":79,"d":12,"e":0.002543},{"v":79,"d":13,"e":0.002362},{"v":79,"d":14.1,"e":0.002623},{"v":79,"d":15.3,"e":0.002584},{"v":79,"d":16.6,"e":0.002876},{"v":79,"d":18,"e":0.002749},{"v":79,"d":19.5,"e":0.003067},{"v":79,"d":21.1,"e":0.002926},{"v":79,"d":22.8,"e":0.003147},{"v":79,"d":24.7,"e":0.002975},{"v":79,"d":26.8,"e":0.003228},{"v":79,"d":29,"e":0.003034},
{"v":79,"d":3.3,"e":0.001374},{"v":79,"d":3.58,"e":0.001523},{"v":79,"d":3.88,"e":0.001502},{"v":79,"d":4.2,"e":0.001603},{"v":79,"d":4.55,"e":0.001564},{"v":79,"d":4.93,"e":0.001763},{"v":79,"d":5.33,"e":0.001696},{"v":79,"d":5.77,"e":0.001843},{"v":79,"d":6.22,"e":0.001757},{"v":79,"d":6.72,"e":0.001917},{"v":79,"d":7.25,"e":0.002026},{"v":79,"d":7.85,"e":0.001947},{"v":79,"d":8.5,"e":0.002111},{"v":79,"d":9.2,"e":0.002049},{"v":79,"d":9.95,"e":0.002312},{"v":79,"d":10.75,"e":0.002229},{"v":79,"d":11.6,"e":0.002426},{"v":79,"d":12.55,"e":0.002352},{"v":79,"d":13.55,"e":0.002631},{"v":79,"d":14.65,"e":0.002589},{"v":79,"d":15.85,"e":0.002761},{"v":79,"d":17.15,"e":0.002668},{"v":79,"d":18.55,"e":0.003027},{"v":79,"d":20.05,"e":0.002856},{"v":79,"d":21.65,"e":0.003098},{"v":79,"d":23.4,"e":0.003019},{"v":79,"d":25.3,"e":0.003253},{"v":79,"d":27.4,"e":0.002968},{"v":79,"d":29.6,"e":0.003121},
{"v":79,"d":3.45,"e":0.001455},{"v":79,"d":3.75,"e":0.001479},{"v":79,"d":4.08,"e":0.001582},{"v":79,"d":4.42,"e":0.001578},{"v":79,"d":4.8,"e":0.001662},{"v":79,"d":5.2,"e":0.001749},{"v":79,"d":5.63,"e":0.001753},{"v":79,"d":6.1,"e":0.001851},{"v":79,"d":6.6,"e":0.001849},{"v":79,"d":7.13,"e":0.001976},{"v":79,"d":7.7,"e":0.001991},{"v":79,"d":8.32,"e":0.00203},{"v":79,"d":9,"e":0.002159},{"v":79,"d":9.7,"e":0.002137},{"v":79,"d":10.5,"e":0.002277},{"v":79,"d":11.35,"e":0.00233},{"v":79,"d":12.25,"e":0.002395},{"v":79,"d":13.25,"e":0.002557},{"v":79,"d":14.35,"e":0.00254},{"v":79,"d":15.5,"e":0.002707},{"v":79,"d":16.8,"e":0.00278},{"v":79,"d":18.2,"e":0.002843},{"v":79,"d":19.7,"e":0.002988},{"v":79,"d":21.3,"e":0.002933},{"v":79,"d":23,"e":0.003094},{"v":79,"d":24.9,"e":0.003134},{"v":79,"d":26.9,"e":0.003071},{"v":79,"d":29.2,"e":0.003126}
]
},
"vconcat":[
{
"width":554,"height":474,
"layer":[
{"data":{"name":"pa"},
 "mark":{"type":"point","opacity":1,"strokeWidth":1.25,"size":90},
 "encoding":{
  "x":{"field":"d","type":"quantitative","scale":{"type":"log","domain":[0.1,30],"nice":false},
   "axis":{"orient":"bottom","values":[0.1,0.2,0.3,0.4,0.5,0.6,0.7,0.8,0.9,1,2,3,4,5,6,7,8,9,10,20,30],
    "labelExpr":"datum.value == 0.1 ? '0.1' : datum.value == 1 ? '1' : datum.value == 10 ? '10' : ''",
    "tickSize":{"condition":{"test":"datum.value == 1 || datum.value == 10","value":-9},"value":-5},
    "labelPadding":{"condition":{"test":"datum.value == 1 || datum.value == 10","value":36},"value":32},
    "labelBaseline":"middle","title":"D(µm)","titleX":290,"titleY":60,"titleBaseline":"middle","titleAlign":"center"}},
  "y":{"field":"e","type":"quantitative","scale":{"type":"log","domain":[0.0005,0.05],"nice":false},
   "axis":{"orient":"left","values":[0.0006,0.0007,0.0008,0.0009,0.001,0.002,0.003,0.004,0.005,0.006,0.007,0.008,0.009,0.01,0.02,0.03,0.04],
    "labelExpr":"datum.value == 0.001 || datum.value == 0.01 ? '10' : ''",
    "tickSize":{"condition":{"test":"datum.value == 0.001 || datum.value == 0.01","value":-10},"value":-7},
    "labelPadding":36,"labelBaseline":"middle","title":"η(Pa s)","titleFontSize":30,"titleX":-69,"titleY":232,"titleBaseline":"middle","titleAlign":"center","titleAngle":-90}},
  "fill":{"field":"v","type":"nominal","scale":{"domain":[7.9,39.5,79],"range":["#b4b4b4","transparent","transparent"]},
   "legend":{"title":null,"orient":"none","legendX":26,"legendY":161,"padding":12,"rowPadding":11,"symbolOffset":17,"labelOffset":19,
    "labelExpr":"'V = ' + datum.label + ' µm/s'",
    "labelColor":{"expr":"datum.value == 7.9 ? '#b3b3b3' : '#1a1a1a'"}}},
  "stroke":{"field":"v","type":"nominal","scale":{"domain":[7.9,39.5,79],"range":["transparent","#2e2e2e","#3a3a3a"]},
   "legend":{"title":null,"orient":"none","legendX":26,"legendY":161,"padding":12,"rowPadding":11,"symbolOffset":17,"labelOffset":19,
    "labelExpr":"'V = ' + datum.label + ' µm/s'",
    "labelColor":{"expr":"datum.value == 7.9 ? '#b3b3b3' : '#1a1a1a'"}}},
  "shape":{"field":"v","type":"nominal","scale":{"domain":[7.9,39.5,79],"range":["M-0.42,0L-0.3,-0.3L0,-0.42L0.3,-0.3L0.42,0L0.3,0.3L0,0.42L-0.3,0.3Z","M0,-1L1,0L0,1L-1,0Z","M-0.85,0L0.85,0M0,-0.85L0,0.85"]},
   "legend":{"title":null,"orient":"none","legendX":26,"legendY":161,"padding":12,"rowPadding":11,"symbolOffset":17,"labelOffset":19,
    "labelExpr":"'V = ' + datum.label + ' µm/s'",
    "labelColor":{"expr":"datum.value == 7.9 ? '#b3b3b3' : '#1a1a1a'"}}}
 }},
{"data":{"values":[{"d":0.1,"d2":30,"e":0.001}]},
 "mark":{"type":"rule","strokeDash":[9,4],"strokeWidth":3.5,"color":"#1a1a1a"},
 "encoding":{
  "x":{"field":"d","type":"quantitative","axis":{"orient":"top","values":[0.1,0.2,0.3,0.4,0.5,0.6,0.7,0.8,0.9,1,2,3,4,5,6,7,8,9,10,20,30],"labels":false,"title":null,
    "tickSize":{"condition":{"test":"datum.value == 1 || datum.value == 10","value":-9},"value":-5}}},
  "x2":{"field":"d2"},
  "y":{"field":"e","type":"quantitative","axis":{"orient":"right","values":[0.0005,0.0006,0.0007,0.0008,0.0009,0.001,0.002,0.003,0.004,0.005,0.006,0.007,0.008,0.009,0.01,0.02,0.03,0.04,0.05],"labels":false,"title":null,
    "tickSize":{"condition":{"test":"datum.value == 0.001 || datum.value == 0.01","value":-10},"value":-7}}}
 }},
{"data":{"values":[{"d":0.6,"e":0.0005,"e2":0.0022}]},
 "mark":{"type":"rule","strokeDash":[11,3,3,3],"strokeWidth":3.5,"color":"#1a1a1a"},
 "encoding":{"x":{"field":"d","type":"quantitative","axis":null},"y":{"field":"e","type":"quantitative","axis":null},"y2":{"field":"e2"}}},
{"data":{"values":[{"d":0.145,"e":0.034,"t":"(a)"}]},
 "mark":{"type":"text","fontWeight":"bold","fontSize":23,"align":"center","baseline":"middle","color":"#1a1a1a"},
 "encoding":{"x":{"field":"d","type":"quantitative","axis":null},"y":{"field":"e","type":"quantitative","axis":null},"text":{"field":"t"}}},
{"data":{"values":[{"d":2.48,"e":0.0345,"t":"PAM solution ( 200 ppm )"}]},
 "mark":{"type":"text","fontSize":27,"align":"center","baseline":"middle","color":"#1a1a1a"},
 "encoding":{"x":{"field":"d","type":"quantitative","axis":null},"y":{"field":"e","type":"quantitative","axis":null},"text":{"field":"t"}}},
{"data":{"values":[{"d":0.1,"e":0.001,"t":"-3"},{"d":0.1,"e":0.01,"t":"-2"}]},
 "mark":{"type":"text","fontSize":13,"align":"left","baseline":"middle","dx":-25,"dy":-8,"color":"#1a1a1a"},
 "encoding":{"x":{"field":"d","type":"quantitative","axis":null},"y":{"field":"e","type":"quantitative","axis":null},"text":{"field":"t"}}},
{"data":{"values":[{"d":0.6,"e":0.0005,"t":"2 R"}]},
 "mark":{"type":"text","fontSize":22,"align":"center","baseline":"middle","dx":8,"dy":23,"color":"#1a1a1a"},
 "encoding":{"x":{"field":"d","type":"quantitative","axis":null},"y":{"field":"e","type":"quantitative","axis":null},"text":{"field":"t"}}},
{"data":{"values":[{"d":0.6,"e":0.0005,"t":"g"}]},
 "mark":{"type":"text","fontSize":17,"align":"center","baseline":"middle","dx":35,"dy":40,"color":"#1a1a1a"},
 "encoding":{"x":{"field":"d","type":"quantitative","axis":null},"y":{"field":"e","type":"quantitative","axis":null},"text":{"field":"t"}}}
],
"resolve":{"axis":{"x":"independent","y":"independent"}}
},
{
"width":554,"height":474,
"layer":[
{"data":{"name":"pb"},
 "mark":{"type":"point","opacity":1,"strokeWidth":1.25,"size":90},
 "encoding":{
  "x":{"field":"d","type":"quantitative","scale":{"type":"log","domain":[0.1,30],"nice":false},
   "axis":{"orient":"bottom","values":[0.1,0.2,0.3,0.4,0.5,0.6,0.7,0.8,0.9,1,2,3,4,5,6,7,8,9,10,20,30],
    "labelExpr":"datum.value == 0.1 ? '0.1' : datum.value == 1 ? '1' : datum.value == 10 ? '10' : ''",
    "tickSize":{"condition":{"test":"datum.value == 1 || datum.value == 10","value":-9},"value":-5},
    "labelPadding":{"condition":{"test":"datum.value == 1 || datum.value == 10","value":36},"value":32},
    "labelBaseline":"middle","title":"D(µm)","titleX":273,"titleY":42,"titleBaseline":"middle","titleAlign":"center"}},
  "y":{"field":"e","type":"quantitative","scale":{"type":"log","domain":[0.0005,0.025],"nice":false},
   "axis":{"orient":"left","values":[0.0006,0.0007,0.0008,0.0009,0.001,0.002,0.003,0.004,0.005,0.006,0.007,0.008,0.009,0.01,0.02],
    "labelExpr":"datum.value == 0.001 || datum.value == 0.01 ? '10' : ''",
    "tickSize":{"condition":{"test":"datum.value == 0.001 || datum.value == 0.01","value":-10},"value":-7},
    "labelPadding":36,"labelBaseline":"middle","title":"η(Pa s)","titleFontSize":30,"titleX":-69,"titleY":228,"titleBaseline":"middle","titleAlign":"center","titleAngle":-90}},
  "fill":{"field":"v","type":"nominal","scale":{"domain":[7.9,39.5,79],"range":["transparent","transparent","#bcbcbc"]},
   "legend":{"title":null,"orient":"none","legendX":29,"legendY":103,"padding":10,"rowPadding":9.5,"symbolOffset":16,"labelOffset":19,
    "labelExpr":"'V = ' + datum.label + ' µm/s'",
    "labelColor":{"expr":"datum.value == 79 ? '#b3b3b3' : '#1a1a1a'"}}},
  "stroke":{"field":"v","type":"nominal","scale":{"domain":[7.9,39.5,79],"range":["#3a3a3a","#262626","transparent"]},
   "legend":{"title":null,"orient":"none","legendX":29,"legendY":103,"padding":10,"rowPadding":9.5,"symbolOffset":16,"labelOffset":19,
    "labelExpr":"'V = ' + datum.label + ' µm/s'",
    "labelColor":{"expr":"datum.value == 79 ? '#b3b3b3' : '#1a1a1a'"}}},
  "shape":{"field":"v","type":"nominal","scale":{"domain":[7.9,39.5,79],"range":["M-0.85,0L0.85,0M0,-0.85L0,0.85","M0,-1L1,0L0,1L-1,0Z","M-0.55,0L-0.39,-0.39L0,-0.55L0.39,-0.39L0.55,0L0.39,0.39L0,0.55L-0.39,0.39Z"]},
   "legend":{"title":null,"orient":"none","legendX":29,"legendY":103,"padding":10,"rowPadding":9.5,"symbolOffset":16,"labelOffset":19,
    "labelExpr":"'V = ' + datum.label + ' µm/s'",
    "labelColor":{"expr":"datum.value == 79 ? '#b3b3b3' : '#1a1a1a'"}}}
 }},
{"data":{"values":[{"d":0.1,"d2":30,"e":0.001}]},
 "mark":{"type":"rule","strokeDash":[8,3,3,3],"strokeWidth":3.5,"color":"#1a1a1a"},
 "encoding":{
  "x":{"field":"d","type":"quantitative","axis":{"orient":"top","values":[0.1,0.2,0.3,0.4,0.5,0.6,0.7,0.8,0.9,1,2,3,4,5,6,7,8,9,10,20,30],"labels":false,"title":null,
    "tickSize":{"condition":{"test":"datum.value == 1 || datum.value == 10","value":-9},"value":-5}}},
  "x2":{"field":"d2"},
  "y":{"field":"e","type":"quantitative","axis":{"orient":"right","values":[0.0005,0.0006,0.0007,0.0008,0.0009,0.001,0.002,0.003,0.004,0.005,0.006,0.007,0.008,0.009,0.01,0.02],"labels":false,"title":null,
    "tickSize":{"condition":{"test":"datum.value == 0.001 || datum.value == 0.01","value":-10},"value":-7}}}
 }},
{"data":{"values":[{"d":0.6,"e":0.0005,"e2":0.00177}]},
 "mark":{"type":"rule","strokeDash":[11,3,3,3],"strokeWidth":3.5,"color":"#1a1a1a"},
 "encoding":{"x":{"field":"d","type":"quantitative","axis":null},"y":{"field":"e","type":"quantitative","axis":null},"y2":{"field":"e2"}}},
{"data":{"values":[{"d":0.145,"e":0.0183,"t":"(b)"}]},
 "mark":{"type":"text","fontWeight":"bold","fontSize":23,"align":"center","baseline":"middle","color":"#1a1a1a"},
 "encoding":{"x":{"field":"d","type":"quantitative","axis":null},"y":{"field":"e","type":"quantitative","axis":null},"text":{"field":"t"}}},
{"data":{"values":[{"d":2.125,"e":0.0186,"t":"PAM solution (100 ppm)"}]},
 "mark":{"type":"text","fontSize":27,"align":"center","baseline":"middle","color":"#1a1a1a"},
 "encoding":{"x":{"field":"d","type":"quantitative","axis":null},"y":{"field":"e","type":"quantitative","axis":null},"text":{"field":"t"}}},
{"data":{"values":[{"d":0.1,"e":0.001,"t":"-3"},{"d":0.1,"e":0.01,"t":"-2"}]},
 "mark":{"type":"text","fontSize":13,"align":"left","baseline":"middle","dx":-25,"dy":-9,"color":"#1a1a1a"},
 "encoding":{"x":{"field":"d","type":"quantitative","axis":null},"y":{"field":"e","type":"quantitative","axis":null},"text":{"field":"t"}}},
{"data":{"values":[{"d":0.6,"e":0.0005,"t":"2 R"}]},
 "mark":{"type":"text","fontSize":22,"align":"center","baseline":"middle","dx":-16,"dy":19,"color":"#1a1a1a"},
 "encoding":{"x":{"field":"d","type":"quantitative","axis":null},"y":{"field":"e","type":"quantitative","axis":null},"text":{"field":"t"}}},
{"data":{"values":[{"d":0.6,"e":0.0005,"t":"g"}]},
 "mark":{"type":"text","fontSize":17,"align":"center","baseline":"middle","dx":14,"dy":35,"color":"#1a1a1a"},
 "encoding":{"x":{"field":"d","type":"quantitative","axis":null},"y":{"field":"e","type":"quantitative","axis":null},"text":{"field":"t"}}}
],
"resolve":{"axis":{"x":"independent","y":"independent"}}
}
],
"resolve":{"scale":{"shape":"independent","fill":"independent","stroke":"independent"}}
}
